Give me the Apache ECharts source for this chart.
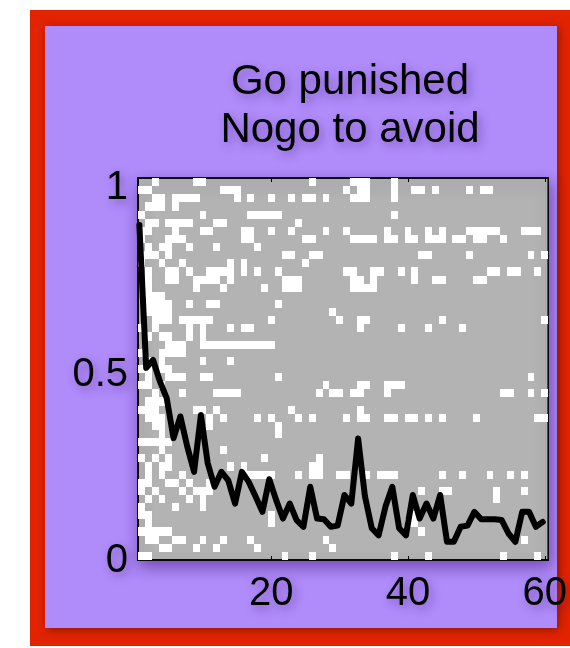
<!DOCTYPE html>
<html>
<head>
<meta charset="utf-8">
<script src="https://cdn.jsdelivr.net/npm/echarts@6/dist/echarts.min.js"></script>
<style>
  html, body { margin: 0; padding: 0; background: #fff; }
  #chart { width: 570px; height: 648px; }
</style>
</head>
<body>
<div id="chart"></div>
<script>
// trials 1..60, fraction of "go" responses (black line)
var trials = [];
for (var i = 1; i <= 60; i++) trials.push(i);
var goRate = [
  0.885, 0.503, 0.524, 0.467, 0.422, 0.315, 0.373, 0.293, 0.225, 0.377,
  0.248, 0.185, 0.225, 0.202, 0.140, 0.225, 0.198, 0.159, 0.118, 0.205,
  0.150, 0.100, 0.140, 0.096, 0.078, 0.185, 0.100, 0.098, 0.078, 0.081,
  0.163, 0.140, 0.314, 0.159, 0.074, 0.055, 0.132, 0.185, 0.074, 0.055,
  0.163, 0.100, 0.140, 0.100, 0.163, 0.038, 0.038, 0.078, 0.081, 0.118,
  0.098, 0.098, 0.098, 0.096, 0.060, 0.038, 0.118, 0.118, 0.078, 0.091
];

// subjects (rows, top to bottom) -> trials where the response was "go" (white cell)
var whiteCols = [
  [3, 9, 10, 26, 32, 33, 34, 38],
  [1, 2, 13, 14, 15, 31, 33, 34, 38, 41, 42, 44, 49, 51, 52],
  [3, 4, 6, 7, 8, 9, 15, 17, 20, 23, 25, 26, 28, 32, 33, 34, 38],
  [2, 3, 4, 6],
  [1, 10, 17, 18, 19, 20, 21, 38],
  [2, 3, 5, 6, 7, 8, 12, 13, 24],
  [1, 2, 6, 10, 11, 16, 17, 20, 23, 28, 31, 37, 40, 43, 45, 49, 50, 51, 52, 53, 57, 58, 59],
  [1, 5, 6, 7, 16, 17, 25, 26, 32, 33, 34, 35, 37, 38, 40, 41, 43, 44, 45, 47, 48, 50, 51, 54],
  [2, 4, 5, 8, 12, 18],
  [1, 2, 3, 5, 22, 23, 26, 27, 42, 43, 49, 58, 60],
  [1, 4, 7, 14, 16, 25],
  [2, 5, 6, 8, 11, 12, 13, 14, 16, 18, 21, 31, 32, 35, 36, 39, 41, 52, 53, 55, 56, 59],
  [2, 5, 6, 9, 10, 11, 12, 14, 22, 23, 24, 32, 33, 35, 41, 44, 45, 50, 51],
  [2, 9, 13, 19, 22, 23, 24, 32, 33, 34, 35],
  [2, 3, 4],
  [2, 3, 4, 5, 8, 11, 12, 21],
  [2, 3, 4, 5, 29],
  [3, 4, 5, 7, 8, 9, 10, 11, 20, 30, 33, 34, 45, 60],
  [1, 3, 8, 10, 14, 16, 17, 33, 39, 43, 48],
  [2, 4, 5, 8, 10],
  [5, 6, 7, 10, 11, 12, 13, 14, 15, 16, 17, 18, 19, 20],
  [1, 4, 5, 6, 7],
  [2, 4, 10, 14],
  [1, 2, 4, 5],
  [2, 5, 6, 7, 10, 11, 21, 58],
  [1, 2, 4, 28, 33, 34, 37, 38, 39],
  [3, 7, 12, 13, 14, 15, 27, 29, 30, 32, 33, 37, 54, 55, 58, 60],
  [2, 3, 4],
  [1, 2, 3, 9, 10, 12, 23, 33],
  [2, 3, 4, 11, 13, 18, 20, 24, 26, 31, 33, 34, 37, 38, 40, 41, 43, 45, 50, 59, 60],
  [3, 4, 11, 21],
  [4, 21],
  [1, 2, 3, 4, 5],
  [4, 13],
  [1, 3, 5, 19, 27],
  [2, 4, 5, 14, 16, 26, 27],
  [2, 4, 7, 16, 17, 18, 19, 20, 24, 26, 27, 30, 31, 34, 36, 37, 38, 45, 48, 52, 55, 57],
  [1, 2, 5, 6, 8, 11],
  [1, 3, 7, 9, 10, 11, 42, 45, 46, 53, 57],
  [2, 4, 8, 10, 53],
  [1, 6, 10],
  [1, 2, 20, 41],
  [2, 20, 40, 41],
  [1, 2, 3, 4, 5, 42],
  [2, 3, 6, 7, 10, 13, 17, 28, 57],
  [4, 5, 9, 12, 18, 29],
  [1, 2, 22, 26, 38, 43, 54, 59]
];

var xTickLabels = [20, 40, 60];
var yTickLabels = [0, 0.5, 1];
var titleText = "Go punished\nNogo to avoid";

var nRows = whiteCols.length;
var rowStep = 1 / (nRows - 1);
var cells = [];
whiteCols.forEach(function (cols, r) {
  var yc = (nRows - 1 - r) * rowStep;
  cols.forEach(function (c) {
    cells.push([c, yc]);
  });
});

var shadow = {
  textShadowColor: "rgba(40,0,90,0.35)",
  textShadowBlur: 10,
  textShadowOffsetX: 3,
  textShadowOffsetY: 4
};

var myChart = echarts.init(document.getElementById("chart"), null, { renderer: "canvas" });

var option = {
  backgroundColor: "#ffffff",
  animation: false,
  graphic: [
    {
      type: "rect", z: -10, silent: true,
      shape: { x: 30, y: 10, width: 540, height: 636 },
      style: { fill: "#e12300" }
    },
    {
      type: "rect", z: -9, silent: true,
      shape: { x: 45, y: 26, width: 512, height: 602 },
      style: { fill: "#b08bfa", shadowColor: "rgba(0,0,0,0.35)", shadowBlur: 8, shadowOffsetX: 2, shadowOffsetY: 2 }
    }
  ],
  title: {
    text: titleText,
    left: 345,
    top: 53,
    textAlign: "center",
    textStyle: Object.assign({
      fontFamily: "Liberation Sans",
      fontSize: 42,
      fontWeight: "normal",
      lineHeight: 48,
      color: "#000"
    }, shadow)
  },
  grid: {
    show: true,
    left: 138,
    top: 178,
    right: 16.5,
    bottom: 88,
    backgroundColor: "#b3b3b3",
    borderColor: "#000",
    borderWidth: 1.5,
    shadowColor: "rgba(40,0,90,0.45)",
    shadowBlur: 14,
    shadowOffsetX: 2,
    shadowOffsetY: 6
  },
  xAxis: [
    {
      type: "value",
      min: 0.5,
      max: 60.5,
      splitLine: { show: false },
      axisLine: { show: true, onZero: false, lineStyle: { color: "#000", width: 1.5 } },
      axisTick: { show: true, inside: true, length: 4, customValues: xTickLabels, lineStyle: { color: "#000" } },
      axisLabel: Object.assign({
        customValues: xTickLabels,
        fontFamily: "Liberation Sans",
        fontSize: 40,
        color: "#000",
        margin: 14
      }, shadow)
    },
    {
      // the mean line is drawn on trials shifted slightly left of the cell centers
      type: "value",
      min: 0.8,
      max: 60.8,
      show: false
    },
    {
      type: "value",
      position: "top",
      min: 0.5,
      max: 60.5,
      splitLine: { show: false },
      axisLine: { show: true, onZero: false, lineStyle: { color: "#000", width: 1.5 } },
      axisTick: { show: true, inside: true, length: 4, customValues: xTickLabels, lineStyle: { color: "#000" } },
      axisLabel: { show: false }
    }
  ],
  yAxis: [
    {
      type: "value",
      min: -rowStep / 2,
      max: 1 + rowStep / 2,
      splitLine: { show: false },
      axisLine: { show: true, onZero: false, lineStyle: { color: "#000", width: 2 } },
      axisTick: { show: false },
      axisLabel: {
        customValues: yTickLabels,
        margin: 10,
        formatter: "{v|{value}}",
        rich: {
          v: Object.assign({
            fontFamily: "Liberation Sans",
            fontSize: 40,
            color: "#000",
            padding: [11, 0, 0, 0]
          }, shadow)
        }
      }
    }
  ],
  series: [
    {
      type: "custom",
      name: "go",
      xAxisIndex: 0,
      yAxisIndex: 0,
      clip: true,
      renderItem: function (params, api) {
        var c = api.value(0);
        var r = api.value(1);
        var p0 = api.coord([c - 0.5, r + rowStep / 2]);
        var p1 = api.coord([c + 0.5, r - rowStep / 2]);
        var x0 = Math.round(p0[0]), y0 = Math.round(p0[1]);
        var x1 = Math.round(p1[0]), y1 = Math.round(p1[1]);
        return {
          type: "rect",
          shape: { x: x0, y: y0, width: x1 - x0, height: y1 - y0 },
          style: { fill: "#ffffff" }
        };
      },
      data: cells,
      z: 1
    },
    {
      type: "line",
      name: "mean",
      xAxisIndex: 1,
      yAxisIndex: 0,
      data: trials.map(function (t, k) { return [t, goRate[k]]; }),
      showSymbol: false,
      lineStyle: { color: "#000", width: 6, join: "round", cap: "round" },
      z: 5
    }
  ]
};

myChart.setOption(option);
</script>
</body>
</html>
